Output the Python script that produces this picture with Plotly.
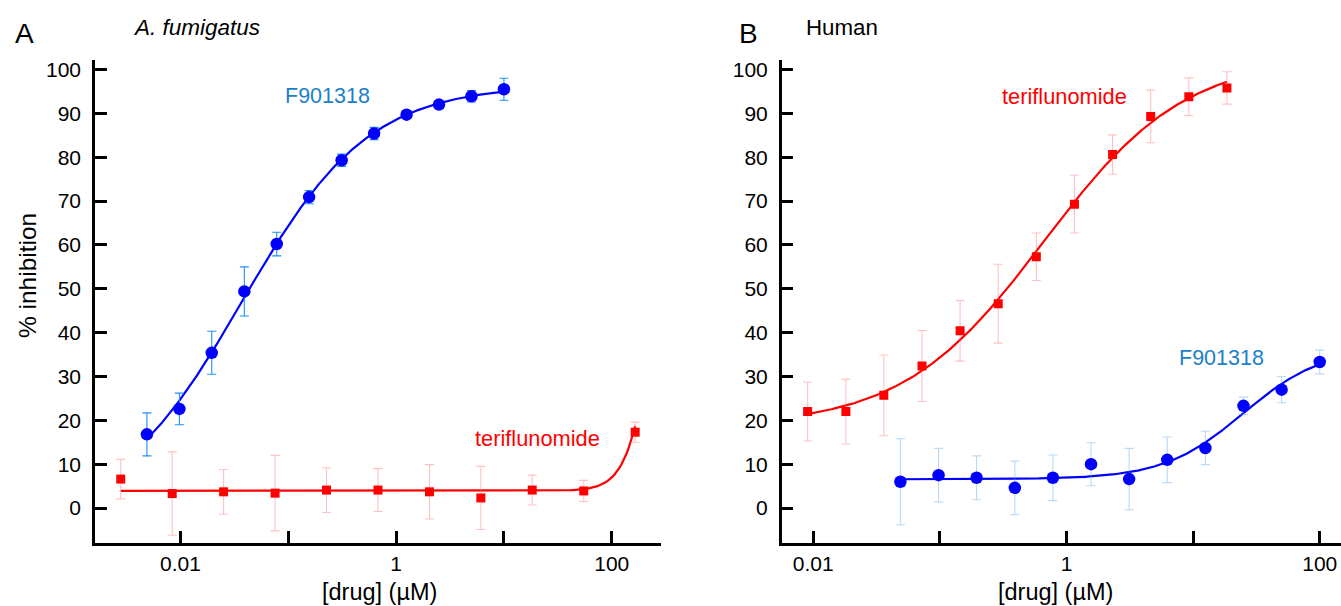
import numpy as np
import plotly.graph_objects as go

# ---------------- data ----------------
# Panel A: A. fumigatus
a_f9_conc = [0.00488, 0.00977, 0.0195, 0.0391, 0.0781, 0.156, 0.3125, 0.625, 1.25, 2.5, 5, 10]
a_f9_inh = [16.8, 22.6, 35.4, 49.4, 60.2, 70.9, 79.3, 85.4, 89.7, 92.0, 93.9, 95.5]
a_f9_sd = [4.9, 3.6, 4.9, 5.6, 2.7, 1.5, 1.4, 1.4, 0.6, 0.6, 1.3, 2.5]

a_ter_conc = [0.00279, 0.00838, 0.0251, 0.0754, 0.226, 0.679, 2.04, 6.11, 18.3, 55, 165]
a_ter_inh = [6.6, 3.3, 3.7, 3.4, 4.1, 4.1, 3.7, 2.3, 4.1, 3.9, 17.3]
a_ter_sd = [4.5, 9.5, 5.1, 8.6, 5.1, 4.9, 6.2, 7.2, 3.4, 2.4, 2.3]
# fitted dose-response parameters for teriflunomide (A)
a_ter_fit = dict(bottom=3.9, top=100.0, log_ec50=2.435, hill=3.4)

# Panel B: Human
b_ter_conc = [0.00903, 0.0181, 0.0361, 0.0723, 0.1445, 0.289, 0.578, 1.156, 2.3125, 4.625, 9.25, 18.5]
b_ter_inh = [22.0, 22.0, 25.7, 32.4, 40.4, 46.6, 57.3, 69.3, 80.6, 89.3, 93.8, 95.8]
b_ter_sd = [6.7, 7.4, 9.2, 8.1, 6.9, 9.0, 5.4, 6.6, 4.5, 6.0, 4.3, 3.7]

b_f9_conc = [0.0488, 0.0977, 0.195, 0.391, 0.781, 1.5625, 3.125, 6.25, 12.5, 25, 50, 100]
b_f9_inh = [6.0, 7.5, 6.9, 4.6, 6.9, 10.0, 6.6, 11.0, 13.7, 23.3, 27.0, 33.3]
b_f9_sd = [9.8, 6.1, 5.0, 6.1, 5.2, 4.9, 7.0, 5.2, 3.8, 2.0, 3.0, 2.7]

x_tick_vals = [0.001, 0.01, 0.1, 1, 10, 100, 1000]
x_tick_text = ["", "0.01", "", "1", "", "100", ""]
y_tick_vals = [0, 10, 20, 30, 40, 50, 60, 70, 80, 90, 100]

# ---------------- styling ----------------
W, H = 1341, 606
FONT = "Liberation Sans, Arial, sans-serif"
BLUE = "#0000ff"
RED = "#ff0000"
LABEL_BLUE = "#1b80c9"


def px(x):
    return x / W


def py(y):
    return 1 - y / H


def hill(conc, bottom, top, log_ec50, hill):
    lx = np.log10(conc)
    return bottom + (top - bottom) / (1 + 10 ** (hill * (log_ec50 - lx)))


def fit_4pl(conc, inh):
    """Least-squares four-parameter logistic fit (grid over EC50/Hill, linear in bottom/top)."""
    lx = np.log10(np.asarray(conc, float))
    y = np.asarray(inh, float)
    lcs = np.linspace(lx.min() - 1.5, lx.max() + 1.5, 361)
    hs = np.linspace(0.3, 4.0, 186)
    S = 1 / (1 + 10 ** (hs[None, :, None] * (lcs[:, None, None] - lx[None, None, :])))
    U = 1 - S
    suu = (U * U).sum(-1); suv = (U * S).sum(-1); svv = (S * S).sum(-1)
    suy = (U * y).sum(-1); svy = (S * y).sum(-1)
    det = suu * svv - suv ** 2
    det = np.where(np.abs(det) < 1e-12, np.nan, det)
    B = (svv * suy - suv * svy) / det
    T = (suu * svy - suv * suy) / det
    pred = B[..., None] * U + T[..., None] * S
    sse = ((pred - y) ** 2).sum(-1)
    sse = np.where(np.isnan(sse), np.inf, sse)
    i, j = np.unravel_index(np.argmin(sse), sse.shape)
    return dict(bottom=B[i, j], top=T[i, j], log_ec50=lcs[i], hill=hs[j])


def curve(conc, params):
    xs = np.logspace(np.log10(min(conc)), np.log10(max(conc)), 300)
    return xs, hill(xs, **params)


a_f9_fit = fit_4pl(a_f9_conc, a_f9_inh)
b_ter_fit = fit_4pl(b_ter_conc, b_ter_inh)
b_f9_fit = fit_4pl(b_f9_conc, b_f9_inh)

fig = go.Figure()


def add_series(conc, inh, sd, params, color, symbol, size, err_color, xa, ya):
    cx, cy = curve(conc, params)
    fig.add_trace(go.Scatter(x=cx, y=cy, mode="lines", line=dict(color=color, width=2.2),
                             xaxis=xa, yaxis=ya, showlegend=False, hoverinfo="skip"))
    fig.add_trace(go.Scatter(x=conc, y=inh, mode="markers",
                             marker=dict(color=color, symbol=symbol, size=size, line=dict(width=0)),
                             error_y=dict(type="data", array=sd, visible=True, color=err_color,
                                          thickness=1.1, width=4.5),
                             xaxis=xa, yaxis=ya, showlegend=False))


# Panel A
add_series(a_ter_conc, a_ter_inh, a_ter_sd, a_ter_fit, RED, "square", 9, "rgba(255,120,120,0.45)", "x", "y")
add_series(a_f9_conc, a_f9_inh, a_f9_sd, a_f9_fit, BLUE, "circle", 12.5, "#1e90ff", "x", "y")
# Panel B
add_series(b_ter_conc, b_ter_inh, b_ter_sd, b_ter_fit, RED, "square", 9, "rgba(255,120,120,0.45)", "x2", "y2")
add_series(b_f9_conc, b_f9_inh, b_f9_sd, b_f9_fit, BLUE, "circle", 12.5, "rgba(100,170,240,0.45)", "x2", "y2")

axis_common = dict(showline=True, linecolor="black", linewidth=2.5, ticks="inside", ticklen=12,
                   tickwidth=2.5, tickcolor="black", showgrid=False, zeroline=False,
                   tickfont=dict(family=FONT, size=21, color="black"))

ydom = [py(542.7), py(58.3)]
yr = [-7.95, 102.14]

fig.update_layout(
    width=W, height=H, margin=dict(l=0, r=0, t=0, b=0),
    paper_bgcolor="white", plot_bgcolor="white",
    xaxis=dict(type="log", domain=[px(95), px(661)], range=[-2.793, 2.457], anchor="y",
               tickvals=x_tick_vals, ticktext=x_tick_text, ticklabelstandoff=0, **axis_common),
    yaxis=dict(domain=ydom, range=yr, anchor="x", tickvals=y_tick_vals, ticklabelstandoff=7,
               **axis_common),
    xaxis2=dict(type="log", domain=[px(781.7), 1.0], range=[-2.249, 2.168], anchor="y2",
                tickvals=x_tick_vals, ticktext=x_tick_text, ticklabelstandoff=0, **axis_common),
    yaxis2=dict(domain=ydom, range=yr, anchor="x2", tickvals=y_tick_vals, ticklabelstandoff=7,
                **axis_common),
)


def note(text, x, y, size, color="black", xanchor="left", angle=0):
    fig.add_annotation(text=text, x=px(x), y=py(y), xref="paper", yref="paper",
                       xanchor=xanchor, yanchor="middle", showarrow=False, textangle=angle,
                       font=dict(family=FONT, size=size, color=color))


note("A", 13, 31.3, 28)
note("<i>A. fumigatus</i>", 131, 26, 22.5)
note("B", 737, 31.3, 28)
note("Human", 804, 26, 22.3)
note("F901318", 327.5, 94.2, 21.5, LABEL_BLUE, "center")
note("teriflunomide", 537, 438, 21.8, RED, "center")
note("teriflunomide", 1064.5, 95, 21.8, RED, "center")
note("F901318", 1221, 356.7, 21.5, LABEL_BLUE, "center")
note("% inhibition", 27, 275, 24.5, "black", "center", -90)
note("[drug] (µM)", 379, 591.5, 23.5, "black", "center")
note("[drug] (µM)", 1055, 591.5, 23.5, "black", "center")

fig.write_html("out.html", config={"displayModeBar": False},
               post_script="document.body.style.margin='0';")
